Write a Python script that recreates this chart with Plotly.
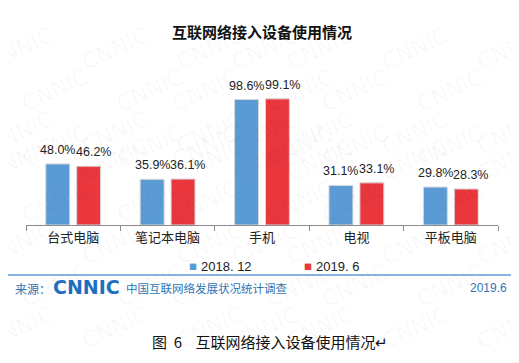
import plotly.graph_objects as go

categories = ["台式电脑", "笔记本电脑", "手机", "电视", "平板电脑"]
series_names = ["2018. 12", "2019. 6"]
values_2018 = [48.0, 35.9, 98.6, 31.1, 29.8]
values_2019 = [46.2, 36.1, 99.1, 33.1, 28.3]
colors = ["#5B9BD5", "#E9373D"]

title_text = "互联网络接入设备使用情况"
caption_text = "图\u00a0\u00a06\u00a0\u00a0\u00a0\u00a0互联网络接入设备使用情况↵"
source_label = "来源："
source_logo = "CNNIC"
source_name = "中国互联网络发展状况统计调查"
source_date = "2019.6"

# page body has an 8px default margin; lay out in reference pixel coords shifted by it
OFF = 8
W, H = 519 - OFF, 363 - OFF
ML, MR, MT, MB = 26 - OFF, 21, 85 - OFF, 138

fig = go.Figure()
for name, vals, col in zip(series_names, [values_2018, values_2019], colors):
    fig.add_trace(go.Bar(
        x=categories, y=vals, name=name,
        marker=dict(color=col, line=dict(color="#d8d8d8", width=1)),
        showlegend=False,
    ))

annotations = []

# value labels (second series' labels are nudged right, as in the source)
label_shift = [-15.5, 20]
for vals, xs in zip([values_2018, values_2019], label_shift):
    for c, v in zip(categories, vals):
        annotations.append(dict(
            xref="x", yref="y", x=c, y=v, text=f"{v:.1f}%",
            showarrow=False, xanchor="center", yanchor="bottom",
            xshift=xs, yshift=5,
            font=dict(family="Arial, Liberation Sans", size=12.5, color="#222"),
        ))

def px(x, y):
    # reference pixel coords -> paper coords
    x, y = x - OFF, y - OFF
    return (x - ML) / (W - ML - MR), (H - MB - y) / (H - MT - MB)

# faint watermark
for row in range(9):
    for col in range(7):
        wx = -20 + col * 95 + (row % 2) * 35
        wy = 20 + row * 42
        ax, ay = px(wx, wy)
        annotations.append(dict(
            xref="paper", yref="paper", x=ax, y=ay,
            text="CNNIC", showarrow=False, textangle=-25,
            font=dict(family="DejaVu Sans", size=22, color="rgba(0,0,0,0.03)"),
        ))

def ann(x, y, text, size, color, xanchor="center", family="Noto Sans CJK SC", bold=False):
    ax, ay = px(x, y)
    t = f"<b>{text}</b>" if bold else text
    annotations.append(dict(xref="paper", yref="paper", x=ax, y=ay, text=t,
                            showarrow=False, xanchor=xanchor, yanchor="middle",
                            font=dict(family=family, size=size, color=color)))

ann(262, 31, title_text, 15, "#111", bold=True)

# legend
legend_pos = [(193, 199), (308, 314)]
for (sx, tx), name, col in zip(legend_pos, series_names, colors):
    ann(sx, 266, "■", 8, col)
    ann(tx, 266, name, 13, "#222", xanchor="left", family="Arial, Liberation Sans")

# source line
ann(13, 288, source_label, 12, "#2E75B6", xanchor="left")
ann(51, 287, source_logo, 19, "#1F6FBF", xanchor="left", family="DejaVu Sans", bold=True)
ann(124, 288, source_name, 11.5, "#2E75B6", xanchor="left")
ann(509, 288, source_date, 12, "#2E75B6", xanchor="right", family="Arial, Liberation Sans")

ann(270, 341, caption_text, 15, "#111")

x0, _ = px(5, 0)
x1, _ = px(513, 0)
_, yl = px(0, 275)

fig.update_layout(
    width=W, height=H,
    margin=dict(l=ML, r=MR, t=MT, b=MB),
    paper_bgcolor="white", plot_bgcolor="white",
    barmode="group", bargap=0.345, bargroupgap=0.226,
    annotations=annotations,
    shapes=[dict(type="line", xref="paper", yref="paper", x0=x0, x1=x1, y0=yl, y1=yl,
                 line=dict(color="#5B9BD5", width=1.5))],
    xaxis=dict(showline=True, linecolor="#8c8c8c", linewidth=1, ticks="outside",
               tickson="boundaries", ticklen=5, tickcolor="#8c8c8c",
               tickfont=dict(family="Noto Sans CJK SC", size=13, color="#222"),
               showgrid=False),
    yaxis=dict(range=[0, 110], visible=False, showgrid=False, zeroline=False),
    font=dict(family="Noto Sans CJK SC"),
)

fig.write_html("out.html")
